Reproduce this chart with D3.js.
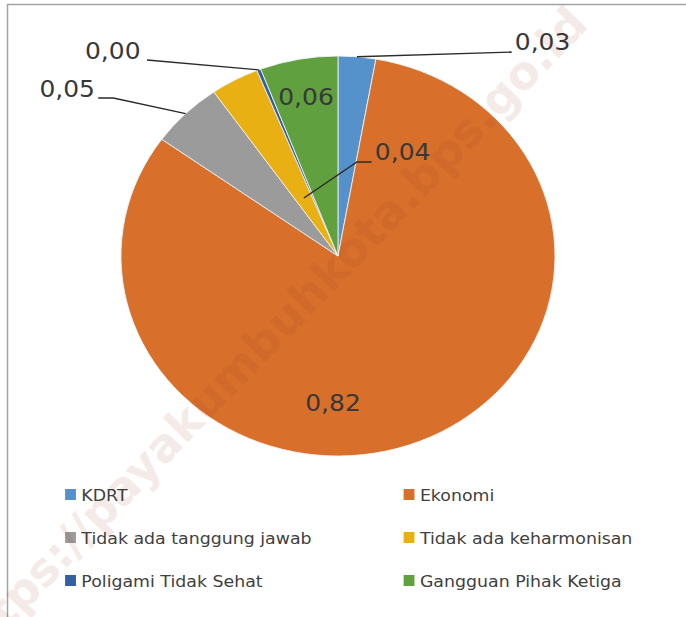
<!DOCTYPE html>
<html>
<head>
<meta charset="utf-8">
<script src="https://cdn.jsdelivr.net/npm/d3@7"></script>
<style>
  body { margin: 0; background: #fff; }
  svg { display: block; }
</style>
</head>
<body>
<svg width="686" height="617"></svg>
<script>
// data (shares of divorce causes)
const categories = ['KDRT', 'Ekonomi', 'Tidak ada tanggung jawab', 'Tidak ada keharmonisan', 'Poligami Tidak Sehat', 'Gangguan Pihak Ketiga'];
const shares = [0.028, 0.822, 0.054, 0.036, 0.003, 0.058];
const colors = ['#5592cc', '#d8702c', '#9b9b9b', '#e8b012', '#35609f', '#60a03e'];

// the original picture is stretched a bit horizontally
const stretch = 1.085;
const cx = 311.5, cy = 256, r = 200;

// label placement relative to pie centre (layout, not data)
const labelLayout = {
  'KDRT': {from: 1, path: [[160, -204]], at: [163, -206], anchor: 'start'},
  'Ekonomi': {at: [-4.6, 155], anchor: 'middle'},
  'Tidak ada tanggung jawab': {from: 1, path: [[-207, -158], [-221, -158]], at: [-224, -159], anchor: 'end'},
  'Tidak ada keharmonisan': {from: 0.33, path: [[17.5, -94], [31, -94]], at: [34, -96], anchor: 'start'},
  'Poligami Tidak Sehat': {from: 1, path: [[-176, -196]], at: [-182, -197], anchor: 'end'},
  'Gangguan Pihak Ketiga': {at: [-29.5, -151], anchor: 'middle'}
};

const svg = d3.select('svg');

// frame
svg.append('rect')
  .attr('x', 7.5).attr('y', 4.5).attr('width', 700).attr('height', 700)
  .attr('fill', 'none').attr('stroke', '#a3a3a3').attr('stroke-width', 1.5);

const g = svg.append('g').attr('transform', `scale(${stretch},1)`);
const pieG = g.append('g').attr('transform', `translate(${cx},${cy})`);

const data = categories.map((c, i) => ({c: c, v: shares[i], col: colors[i]}));
const pie = d3.pie().sort(null).value(d => d.v);
const arcs = pie(data);
const arc = d3.arc().innerRadius(0).outerRadius(r);

pieG.selectAll('path.slice')
  .data(arcs)
  .join('path')
  .attr('class', 'slice')
  .attr('d', arc)
  .attr('fill', d => d.data.col)
  .attr('stroke', '#f3f3f3')
  .attr('stroke-width', 0.8);

const fmt = v => d3.format('.2f')(v).replace('.', ',');

// leader lines
arcs.forEach(d => {
  const lay = labelLayout[d.data.c];
  if (!lay.path) return;
  const k = r * lay.from;
  const start = d3.arc().innerRadius(k).outerRadius(k).centroid(d);
  pieG.append('path')
    .attr('d', d3.line()([start].concat(lay.path)))
    .attr('fill', 'none')
    .attr('stroke', '#2b2b2b')
    .attr('stroke-width', 1.3);
});

pieG.selectAll('text.val')
  .data(arcs)
  .join('text')
  .attr('class', 'val')
  .attr('x', d => labelLayout[d.data.c].at[0])
  .attr('y', d => labelLayout[d.data.c].at[1])
  .attr('text-anchor', d => labelLayout[d.data.c].anchor)
  .style('font-family', 'DejaVu Sans, sans-serif')
  .style('font-size', '23px')
  .style('fill', '#383838')
  .text(d => fmt(d.data.v));

// legend, two columns
const legend = g.append('g');
const item = legend.selectAll('g.item')
  .data(data)
  .join('g')
  .attr('class', 'item')
  .attr('transform', (d, i) => `translate(${i % 2 ? 372 : 60},${495 + Math.floor(i / 2) * 43})`);

item.append('rect')
  .attr('x', 0).attr('y', -6).attr('width', 10).attr('height', 11)
  .attr('fill', d => d.col);

item.append('text')
  .attr('x', 15).attr('y', 0)
  .attr('dy', '0.35em')
  .style('font-family', 'DejaVu Sans, sans-serif')
  .style('font-size', '16px')
  .style('fill', '#404040')
  .text(d => d.c);

// watermark
svg.append('text')
  .attr('transform', 'translate(590,26) rotate(-46)')
  .attr('text-anchor', 'end')
  .style('font-family', 'DejaVu Sans, sans-serif')
  .style('font-weight', 'bold')
  .style('font-size', '46px')
  .style('fill', '#8a2a10')
  .style('opacity', 0.09)
  .text('https://payakumbuhkota.bps.go.id');
</script>
</body>
</html>
